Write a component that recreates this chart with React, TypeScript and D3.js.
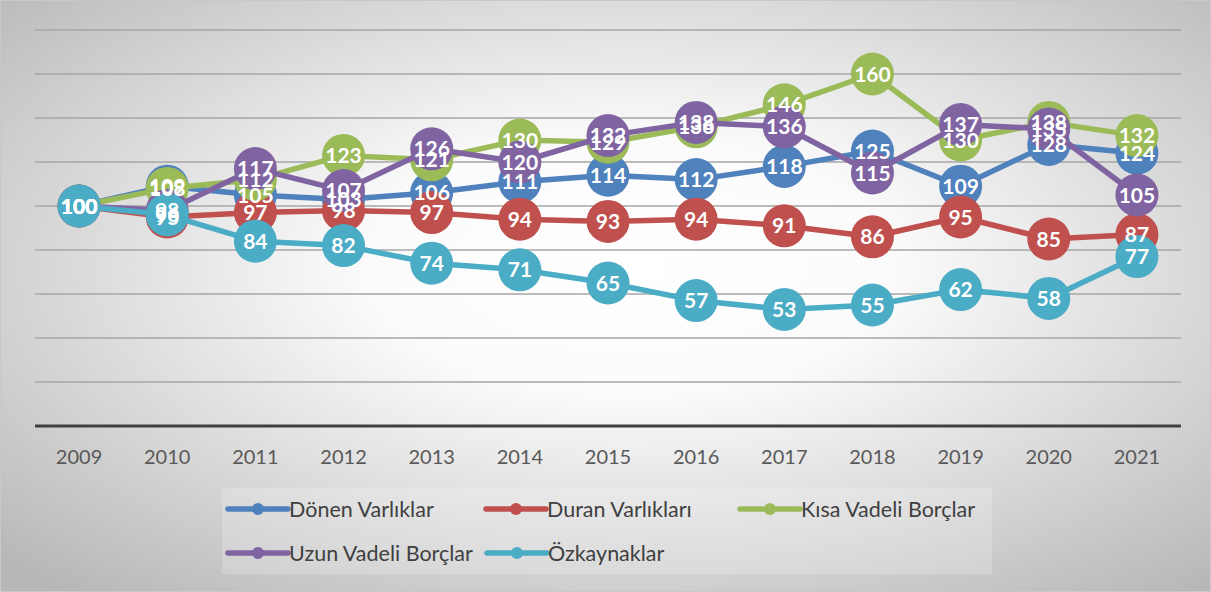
import React from "react";
import * as d3 from "d3";

const years = ["2009","2010","2011","2012","2013","2014","2015","2016","2017","2018","2019","2020","2021"];
const donenVarliklar = [100,109,105,103,106,111,114,112,118,125,109,128,124];
const duranVarliklari = [100,95,97,98,97,94,93,94,91,86,95,85,87];
const kisaVadeliBorclar = [100,108,112,123,121,130,129,136,146,160,130,138,132];
const uzunVadeliBorclar = [100,98,117,107,126,120,132,138,136,115,137,135,105];
const ozkaynaklar = [100,96,84,82,74,71,65,57,53,55,62,58,77];
const yTicks = [0,20,40,60,80,100,120,140,160,180];

const series = [
  { name: "Dönen Varlıklar", values: donenVarliklar, color: "#4f81bd" },
  { name: "Duran Varlıkları", values: duranVarliklari, color: "#c0504d" },
  { name: "Kısa Vadeli Borçlar", values: kisaVadeliBorclar, color: "#9bbb59" },
  { name: "Uzun Vadeli Borçlar", values: uzunVadeliBorclar, color: "#8064a2" },
  { name: "Özkaynaklar", values: ozkaynaklar, color: "#4bacc6" },
];

const W = 1211, H = 592;
const plotL = 35, plotR = 1181, plotT = 30, plotB = 426;

export default function App() {
  const x = d3.scaleBand<string>().domain(years).range([plotL, plotR]);
  const cx = (y: string) => (x(y) as number) + x.bandwidth() / 2;
  const y = d3.scaleLinear().domain([0, 180]).range([plotB, plotT]);
  const line = d3.line<number>().x((_, i) => cx(years[i])).y((v) => y(v));
  const legendPos = [
    { lx: 228, ly: 509 },
    { lx: 486, ly: 509 },
    { lx: 740, ly: 509 },
    { lx: 228, ly: 553 },
    { lx: 487, ly: 553 },
  ];
  return (
    <div style={{ position: "absolute", left: 0, top: 0 }}>
      <svg width={W} height={H} style={{ display: "block" }}>
        <defs>
          <radialGradient id="bg" cx="0.52" cy="0.45" r="0.72">
            <stop offset="0" stopColor="#ffffff" />
            <stop offset="0.3" stopColor="#fbfbfb" />
            <stop offset="1" stopColor="#b7b7b7" />
          </radialGradient>
        </defs>
        <rect x={0.5} y={0.5} width={W - 1} height={H - 1} fill="url(#bg)" stroke="#c8c8c8" />
        {yTicks.filter((t) => t > 0).map((t) => (
          <line key={t} x1={plotL} x2={plotR} y1={y(t)} y2={y(t)} stroke="#a6a6a6" strokeWidth={1.3} />
        ))}
        <line x1={plotL} x2={plotR} y1={y(0)} y2={y(0)} stroke="#404040" strokeWidth={3} />
        {years.map((yr) => (
          <text key={yr} x={cx(yr)} y={464} textAnchor="middle" fontFamily="Lato" fontSize={20} fill="#595959">{yr}</text>
        ))}
        {series.map((s) => (
          <g key={s.name}>
            <path d={line(s.values) || ""} fill="none" stroke={s.color} strokeWidth={5.5} strokeLinejoin="round" />
            {s.values.map((v, i) => (
              <circle key={i} cx={cx(years[i])} cy={y(v)} r={21.5} fill={s.color} />
            ))}
          </g>
        ))}
        {series.map((s) => (
          <g key={s.name + "l"}>
            {s.values.map((v, i) => (
              <text key={i} x={cx(years[i])} y={y(v) + 7.5} textAnchor="middle" fontFamily="Lato" fontWeight="bold" fontSize={21} fill="#ffffff">{v}</text>
            ))}
          </g>
        ))}
        <rect x={222} y={488} width={770} height={86} fill="#ffffff" opacity={0.2} />
        {series.map((s, i) => {
          const p = legendPos[i];
          return (
            <g key={s.name + "g"}>
              <line x1={p.lx} x2={p.lx + 60} y1={p.ly} y2={p.ly} stroke={s.color} strokeWidth={5.5} strokeLinecap="round" />
              <circle cx={p.lx + 30} cy={p.ly} r={6} fill={s.color} />
              <text x={p.lx + 61} y={p.ly + 7.5} fontFamily="Lato" fontSize={21.5} fill="#404040">{s.name}</text>
            </g>
          );
        })}
      </svg>
    </div>
  );
}
